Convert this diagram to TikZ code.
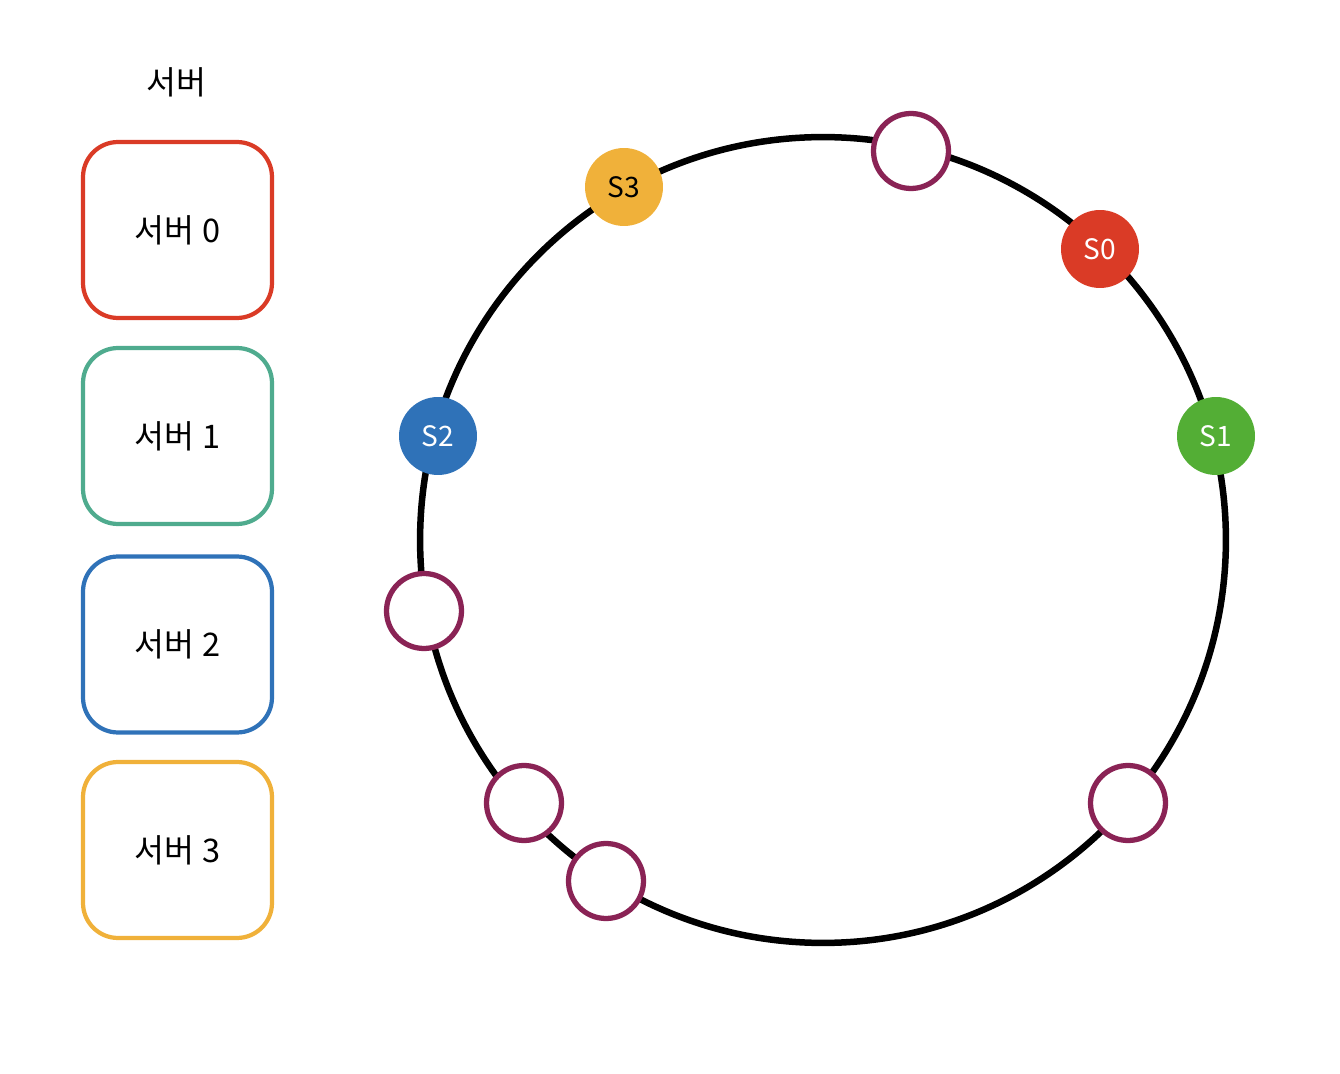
\documentclass[tikz,border=0pt]{standalone}
\usepackage{fontspec}
\setmainfont{Noto Sans CJK KR}
\usepackage{xcolor}
\definecolor{srvred}{HTML}{DA3B26}
\definecolor{srvteal}{HTML}{4FAB8E}
\definecolor{srvgreen}{HTML}{53AE35}
\definecolor{srvblue}{HTML}{2F72B8}
\definecolor{srvorange}{HTML}{F0B13A}
\definecolor{keypurple}{HTML}{8A2355}

\begin{document}
\begin{tikzpicture}[
  x=0.02cm, y=-0.02cm,
  servercard/.style={
    draw=#1,
    fill=white,
    rounded corners=0.7cm,
    line width=2.4pt,
    minimum width=3.78cm,
    minimum height=3.52cm,
    font=\fontsize{18.5}{22}\selectfont
  },
  serverdot/.style 2 args={
    circle,
    fill=#1,
    text=#2,
    minimum size=1.56cm,
    inner sep=0pt,
    font=\fontsize{16}{19}\selectfont
  },
  keydot/.style={
    circle,
    draw=keypurple,
    fill=white,
    line width=3pt,
    minimum size=1.5cm,
    inner sep=0pt
  }
]
  \useasboundingbox (0,0) rectangle (1340,1074);

  % Legend
  \node[font=\fontsize{18.5}{22}\selectfont] (title) at (176,82) {서버};
  \node[servercard=srvred] (box0) at (177.5,230) {서버 0};
  \node[servercard=srvteal] (box1) at (177.5,436) {서버 1};
  \node[servercard=srvblue] (box2) at (177.5,644.5) {서버 2};
  \node[servercard=srvorange] (box3) at (177.5,850) {서버 3};

  % Hash ring
  \node[circle, draw=black, line width=3.7pt, minimum size=16.12cm, inner sep=0pt, outer sep=0pt] (ring) at (823,540) {};

  % Keys
  \node[keydot] (k1) at (911,151) {};
  \node[keydot] (k2) at (424,611) {};
  \node[keydot] (k3) at (524,803) {};
  \node[keydot] (k4) at (606,881) {};
  \node[keydot] (k5) at (1128,803) {};

  % Servers on the ring
  \node[serverdot={srvorange}{black}] (s3) at (624,187) {S3};
  \node[serverdot={srvred}{white}] (s0) at (1100,249) {S0};
  \node[serverdot={srvgreen}{white}] (s1) at (1216,436) {S1};
  \node[serverdot={srvblue}{white}] (s2) at (438,436) {S2};

\end{tikzpicture}
\end{document}
